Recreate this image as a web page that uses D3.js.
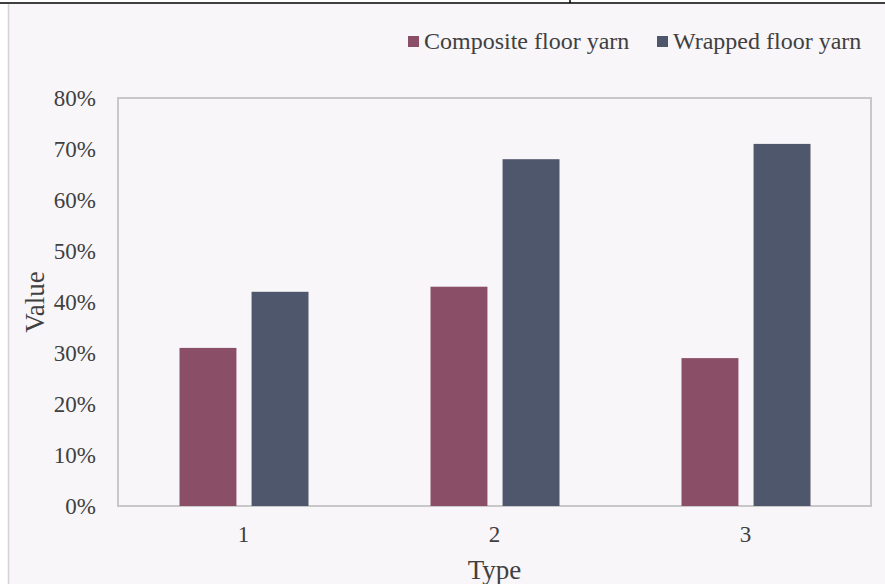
<!DOCTYPE html>
<html><head><meta charset="utf-8">
<script src="https://cdn.jsdelivr.net/npm/d3@7"></script>
<style>body{margin:0;background:#fff;}svg{display:block;}</style>
</head><body>
<script>
const categories = ["1", "2", "3"];
const seriesNames = ["Composite floor yarn", "Wrapped floor yarn"];
const composite = [0.31, 0.43, 0.29];
const wrapped = [0.42, 0.68, 0.71];
const yTicks = [0, 0.1, 0.2, 0.3, 0.4, 0.5, 0.6, 0.7, 0.8];
const colors = ["#8a4f66", "#4e576b"];

const W = 885, H = 584;
const svg = d3.select("body").append("svg").attr("width", W).attr("height", H);
const font = "'Liberation Serif','Times New Roman',serif";
const textColor = "#404040";

// outer chart background
svg.append("rect").attr("x", 8).attr("y", 4).attr("width", W - 8).attr("height", H - 4).attr("fill", "#f8f6f9");
svg.append("line").attr("x1", 8.5).attr("x2", 8.5).attr("y1", 4).attr("y2", H).attr("stroke", "#d4d4d4").attr("stroke-width", 1.5);
svg.append("line").attr("x1", 0).attr("x2", W).attr("y1", 3).attr("y2", 3).attr("stroke", "#000").attr("stroke-width", 1.5);
svg.append("line").attr("x1", 570).attr("x2", 570).attr("y1", 0).attr("y2", 3).attr("stroke", "#000").attr("stroke-width", 1.5);

const m = {left: 118, right: 871, top: 98, bottom: 506};
const x = d3.scaleBand().domain(categories).range([m.left, m.right]);
const x1 = d3.scaleBand().domain(seriesNames).range([-64, 65]).paddingInner(0.21);
const y = d3.scaleLinear().domain([0, 0.8]).range([m.bottom, m.top]);

// plot area border
svg.append("rect").attr("x", m.left).attr("y", m.top).attr("width", m.right - m.left).attr("height", m.bottom - m.top)
  .attr("fill", "none").attr("stroke", "#c8c8c8").attr("stroke-width", 2);

const data = categories.map((c, i) => ({c, vals: [composite[i], wrapped[i]]}));
const g = svg.append("g");
data.forEach(d => {
  d.vals.forEach((v, j) => {
    g.append("rect")
      .attr("x", x(d.c) + x.bandwidth() / 2 + x1(seriesNames[j]))
      .attr("y", y(v))
      .attr("width", x1.bandwidth())
      .attr("height", y(0) - y(v))
      .attr("fill", colors[j]);
  });
});

// y axis labels
const yAxis = d3.axisLeft(y).tickValues(yTicks).tickFormat(d3.format(".0%")).tickSize(0).tickPadding(22);
const ya = svg.append("g").attr("transform", `translate(${m.left},0)`).call(yAxis);
ya.select(".domain").remove();
ya.selectAll("text").attr("font-family", font).attr("font-size", 23).attr("fill", textColor);

// x axis labels
const xAxis = d3.axisBottom(x).tickSize(0).tickPadding(20);
const xa = svg.append("g").attr("transform", `translate(0,${m.bottom})`).call(xAxis);
xa.select(".domain").remove();
xa.selectAll("text").attr("font-family", font).attr("font-size", 23).attr("fill", textColor);

// axis titles
svg.append("text").attr("x", (m.left + m.right) / 2).attr("y", 579).attr("text-anchor", "middle")
  .attr("font-family", font).attr("font-size", 27).attr("fill", textColor).text("Type");
svg.append("text").attr("transform", `translate(44,${(m.top + m.bottom) / 2}) rotate(-90)`).attr("text-anchor", "middle")
  .attr("font-family", font).attr("font-size", 27).attr("fill", textColor).text("Value");

// legend
const legendX = [408, 657];
seriesNames.forEach((s, j) => {
  svg.append("rect").attr("x", legendX[j]).attr("y", 36).attr("width", 11).attr("height", 11).attr("fill", colors[j]);
  svg.append("text").attr("x", legendX[j] + 16).attr("y", 49).attr("font-family", font).attr("font-size", 24)
    .attr("fill", textColor).text(s);
});
</script>
</body></html>
